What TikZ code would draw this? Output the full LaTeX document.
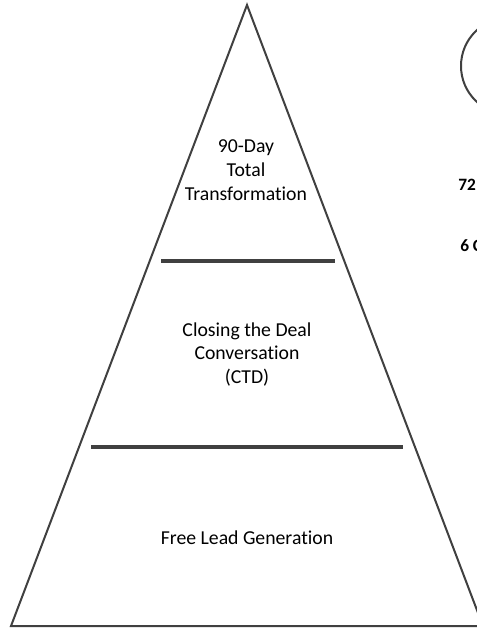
\documentclass[tikz,border=0pt]{standalone}
\usepackage{fontspec}
\setmainfont{Carlito}[Ligatures=CommonOff]
\definecolor{pyramidgray}{RGB}{64, 64, 64}
\tikzset{
  layertext/.style={align=center, font=\fontsize{14.8}{17.8}\selectfont, text=black},
  sidetext/.style={anchor=west, font=\bfseries\fontsize{13}{15}\selectfont, text=black, inner sep=0pt},
  divider/.style={draw=pyramidgray, line width=2.6pt},
}
\begin{document}
\begin{tikzpicture}[x=0.75pt, y=-0.75pt]
\useasboundingbox (0,0) rectangle (477,629);
\clip (0,0) rectangle (477,629);
% pyramid outline
\coordinate (apex) at (247,5);
\coordinate (baseL) at (11,626);
\coordinate (baseR) at (483,626);
\draw[draw=pyramidgray, line width=1.5pt, line join=miter] (apex) -- (baseR) -- (baseL) -- cycle;
% dividers
\coordinate (topL) at (161,261);
\coordinate (topR) at (335,261);
\coordinate (midL) at (91,447);
\coordinate (midR) at (403,447);
\draw[divider] (topL) -- (topR);
\draw[divider] (midL) -- (midR);
% layer labels
\node[layertext] (transform) at (246,170) {90-Day\\Total\\Transformation};
\node[layertext] (ctd) at (247,354.5) {Closing the Deal\\Conversation\\(CTD)};
\node[layertext] (leadgen) at (247,538) {Free Lead Generation};
% cut-off side items
\draw[draw=pyramidgray, line width=1.5pt] (509.5,66) circle (48.5);
\node[sidetext] (hours) at (458,185) {72};
\node[sidetext] (count) at (460,246) {6 C};
\end{tikzpicture}
\end{document}
